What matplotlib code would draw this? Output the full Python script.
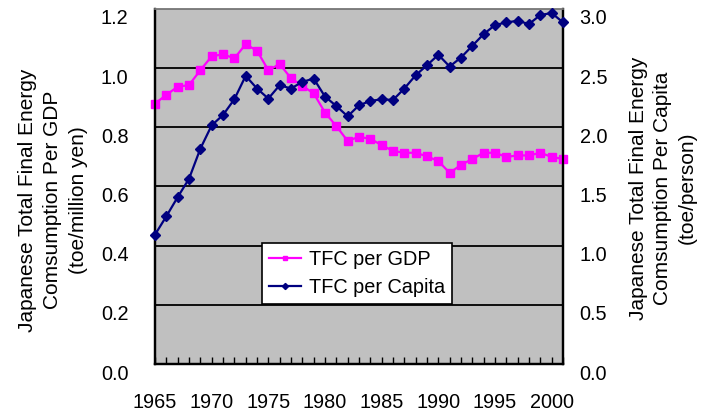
import matplotlib
matplotlib.use("Agg")
import matplotlib.pyplot as plt
import matplotlib.transforms as mtransforms
import numpy as np

plt.rcParams['font.family'] = ['Liberation Sans', 'DejaVu Sans']

# --- data ---
years = list(range(1965, 2002))

tfc_per_gdp = [0.88, 0.91, 0.937, 0.943, 0.993, 1.04, 1.047, 1.033, 1.081, 1.059,
               0.993, 1.014, 0.966, 0.94, 0.915, 0.85, 0.804, 0.754, 0.768, 0.761,
               0.74, 0.72, 0.714, 0.714, 0.702, 0.686, 0.646, 0.673, 0.693, 0.714,
               0.714, 0.70, 0.705, 0.705, 0.714, 0.70, 0.693]

tfc_per_capita = [1.093, 1.248, 1.41, 1.565, 1.819, 2.017, 2.104, 2.237, 2.435, 2.328,
                  2.243, 2.356, 2.328, 2.384, 2.412, 2.26, 2.18, 2.093, 2.186, 2.223,
                  2.237, 2.231, 2.328, 2.44, 2.525, 2.613, 2.514, 2.59, 2.689, 2.788,
                  2.864, 2.887, 2.90, 2.873, 2.949, 2.966, 2.887]

left_ticks = [0.0, 0.2, 0.4, 0.6, 0.8, 1.0, 1.2]
right_ticks = [0.0, 0.5, 1.0, 1.5, 2.0, 2.5, 3.0]
year_labels = [str(y) if y % 5 == 0 else "" for y in years]

left_label = "Japanese Total Final Energy\nComsumption Per GDP\n(toe/million yen)"
right_label = "Japanese Total Final Energy\nComsumption Per Capita\n(toe/person)"

FS = 14.3   # tick / legend text
LFS = 15    # axis titles
W, H = 719, 416

fig = plt.figure(figsize=(W / 100, H / 100), dpi=100)
ax = fig.add_axes([155 / W, 1 - 364 / H, (563 - 155) / W, (364 - 9) / H])
ax.set_facecolor("#C0C0C0")

ax2 = ax.twinx()

# gridlines (black, like the Excel original)
ax.set_ylim(0, 1.2)
ax.set_yticks(left_ticks)
ax.set_yticklabels([f"{v:.1f}" for v in left_ticks])
ax.yaxis.grid(True, color="black", linewidth=1.3)
ax.set_axisbelow(True)

ax2.set_ylim(0, 3.0)
ax2.set_yticks(right_ticks)
ax2.set_yticklabels([f"{v:.1f}" for v in right_ticks])

ax.set_xlim(years[0], years[-1])
ax.set_xticks(years)
ax.set_xticklabels(year_labels)

l1, = ax.plot(years, tfc_per_gdp, color="#FF00FF", marker="s", markersize=5.8,
              linewidth=1.6, clip_on=False, zorder=3, label="TFC per GDP")
l2, = ax2.plot(years, tfc_per_capita, color="#000080", marker="D", markersize=5.2,
               linewidth=1.6, clip_on=False, zorder=3, label="TFC per Capita")

ax.tick_params(axis="x", direction="in", length=5, width=1, color="black",
               labelsize=FS, pad=21)
ax.tick_params(axis="y", length=0, labelsize=FS, pad=19)
ax2.tick_params(axis="y", length=0, labelsize=FS, pad=12)

# Excel draws the value labels a bit below their gridlines
shift = mtransforms.ScaledTranslation(0, -8 / 100, fig.dpi_scale_trans)
for lab in ax.get_yticklabels() + ax2.get_yticklabels():
    lab.set_transform(lab.get_transform() + shift)

for a in (ax, ax2):
    for side in ("left", "right", "bottom"):
        a.spines[side].set_color("black")
        a.spines[side].set_linewidth(1.6)
    a.spines["top"].set_color("#808080")
    a.spines["top"].set_linewidth(1.2)

fig.text(53 / W, 1 - 200 / H, left_label, rotation=90, ha="center", va="center",
         multialignment="center", fontsize=LFS, linespacing=1.4)
fig.text(663 / W, 1 - 188 / H, right_label, rotation=90, ha="center", va="center",
         multialignment="center", fontsize=LFS, linespacing=1.35)

leg = ax2.legend(handles=[l1, l2], loc="upper left",
                 bbox_to_anchor=(262 / W, 1 - 243 / H), bbox_transform=fig.transFigure,
                 fontsize=FS, frameon=True, fancybox=False, framealpha=1,
                 edgecolor="black", facecolor="white", handlelength=1.6,
                 handletextpad=0.4, borderpad=0.35, labelspacing=0.45,
                 borderaxespad=0, markerscale=0.6)
leg.get_frame().set_linewidth(1.2)

fig.savefig("out.png", dpi=100)
